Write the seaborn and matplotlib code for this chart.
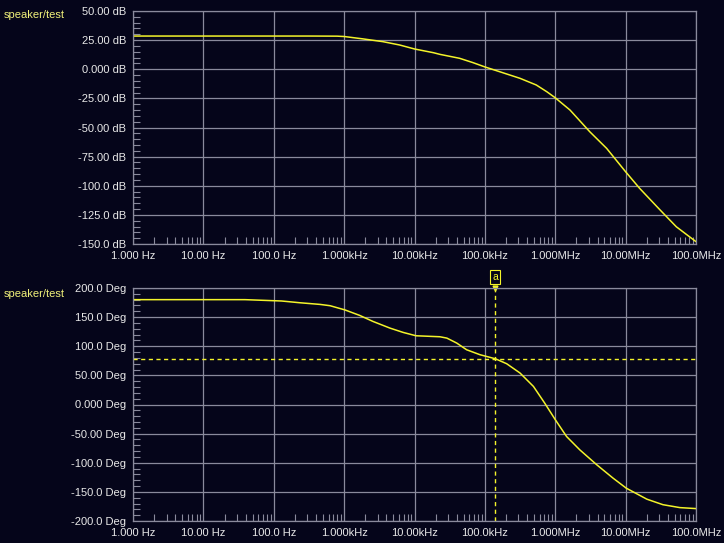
import matplotlib
matplotlib.use("Agg")
import matplotlib.pyplot as plt
from matplotlib.ticker import FixedLocator, FixedFormatter, LogLocator, MultipleLocator, NullFormatter
import numpy as np
import pandas as pd
import seaborn as sns

# ---------------- data ----------------
trace_name = "speaker/test"

mag_freq_hz = [1, 316, 794, 1.0e3, 1.78e3, 3.55e3, 6.17e3, 1.0e4, 1.86e4, 2.29e4,
               4.37e4, 6.76e4, 1.0e5, 1.62e5, 3.16e5, 5.37e5, 7.59e5, 1.0e6,
               1.62e6, 3.09e6, 5.37e6, 1.0e7, 1.58e7, 3.09e7, 5.25e7, 1.0e8]
mag_db = [28.5, 28.5, 28.4, 28.1, 26.2, 23.7, 20.8, 17.4, 14.2, 12.8,
          9.4, 5.7, 2.0, -2.1, -7.8, -13.5, -19.3, -24.5,
          -35.0, -53.6, -67.9, -88.0, -102.2, -120.8, -135.2, -148.0]

phase_freq_hz = [1, 38.9, 129, 234, 457, 631, 1.02e3, 1.66e3, 2.57e3, 4.47e3,
                 6.92e3, 1.05e4, 2.29e4, 2.88e4, 3.98e4, 5.50e4, 8.51e4, 1.41e5,
                 2.04e5, 3.16e5, 4.90e5, 7.08e5, 1.0e6, 1.45e6, 2.24e6, 3.89e6,
                 6.61e6, 1.02e7, 2.0e7, 3.39e7, 5.89e7, 1.0e8]
phase_deg = [180.0, 180.0, 177.7, 174.7, 171.8, 169.6, 162.5, 153.0, 142.6, 131.2,
             123.7, 118.0, 116.3, 114.0, 105.5, 94.0, 85.5, 78.5,
             70.0, 54.0, 31.0, 2.4, -26.0, -55.0, -78.0, -103.5,
             -126.3, -143.6, -162.5, -172.0, -177.0, -178.7]

cursor_label = "a"
cursor_freq_hz = 1.4e5
cursor_phase_deg = 78.5

x_ticks = [1, 10, 100, 1e3, 1e4, 1e5, 1e6, 1e7, 1e8]
x_tick_labels = ["1.000 Hz", "10.00 Hz", "100.0 Hz", "1.000kHz", "10.00kHz",
                 "100.0kHz", "1.000MHz", "10.00MHz", "100.0MHz"]
mag_ticks = [50, 25, 0, -25, -50, -75, -100, -125, -150]
mag_tick_labels = ["50.00 dB", "25.00 dB", "0.000 dB", "-25.00 dB", "-50.00 dB",
                   "-75.00 dB", "-100.0 dB", "-125.0 dB", "-150.0 dB"]
phase_ticks = [200, 150, 100, 50, 0, -50, -100, -150, -200]
phase_tick_labels = ["200.0 Deg", "150.0 Deg", "100.0 Deg", "50.00 Deg", "0.000 Deg",
                     "-50.00 Deg", "-100.0 Deg", "-150.0 Deg", "-200.0 Deg"]

# ---------------- style ----------------
BG = "#05051a"
GRID = "#8a8a9c"
TRACE = "#f4f42a"
TEXT = "#e8e8e8"
LABEL = "#f0f07a"

sns.set_style("dark", {"axes.facecolor": BG, "figure.facecolor": BG,
                       "axes.edgecolor": GRID, "grid.color": GRID})
plt.rcParams["font.family"] = ["Liberation Sans", "DejaVu Sans"]

fig = plt.figure(figsize=(7.24, 5.43), dpi=100)
fig.patch.set_facecolor(BG)
ax1 = fig.add_axes([133 / 724, 1 - 244 / 543, 563 / 724, 233 / 543])
ax2 = fig.add_axes([133 / 724, 1 - 521 / 543, 563 / 724, 233 / 543])

mag_df = pd.DataFrame({"freq": mag_freq_hz, "value": mag_db})
phase_df = pd.DataFrame({"freq": phase_freq_hz, "value": phase_deg})

sns.lineplot(data=mag_df, x="freq", y="value", ax=ax1, color=TRACE, lw=1.1)
sns.lineplot(data=phase_df, x="freq", y="value", ax=ax2, color=TRACE, lw=1.1)


def style_axis(ax, yticks, ylabels, ylim, yminor):
    ax.set_facecolor(BG)
    ax.set_xscale("log")
    ax.set_xlim(x_ticks[0], x_ticks[-1])
    ax.set_ylim(*ylim)
    ax.set_xlabel("")
    ax.set_ylabel("")
    ax.xaxis.set_major_locator(FixedLocator(x_ticks))
    ax.xaxis.set_major_formatter(FixedFormatter(x_tick_labels))
    ax.xaxis.set_minor_locator(LogLocator(base=10, subs=np.arange(2, 10), numticks=50))
    ax.xaxis.set_minor_formatter(NullFormatter())
    ax.yaxis.set_major_locator(FixedLocator(yticks))
    ax.yaxis.set_major_formatter(FixedFormatter(ylabels))
    ax.yaxis.set_minor_locator(MultipleLocator(yminor))
    ax.grid(True, which="major", color=GRID, lw=0.9)
    ax.grid(False, which="minor")
    ax.set_axisbelow(True)
    ax.tick_params(which="both", bottom=True, left=True, top=False, right=False)
    ax.tick_params(which="major", length=0, labelcolor=TEXT, labelsize=8, pad=5)
    ax.tick_params(which="minor", length=5, width=0.8, direction="in", color=GRID)
    for s in ax.spines.values():
        s.set_color(GRID)
        s.set_linewidth(0.9)


style_axis(ax1, mag_ticks, mag_tick_labels, (-150, 50), 5)
style_axis(ax2, phase_ticks, phase_tick_labels, (-200, 200), 10)

# cursor
dash = (0, (3, 2.5))
ax2.axvline(cursor_freq_hz, color=TRACE, lw=1, ls=dash)
ax2.axhline(cursor_phase_deg, color=TRACE, lw=1, ls=dash)
ax2.annotate(cursor_label, xy=(cursor_freq_hz, 1.0), xycoords=("data", "axes fraction"),
             xytext=(0, 8), textcoords="offset points", ha="center", va="center",
             fontsize=7.5, color=TRACE, annotation_clip=False,
             bbox=dict(boxstyle="square,pad=0.2", fc=BG, ec=TRACE, lw=0.8))
ax2.plot([cursor_freq_hz], [1.0], marker="v", ms=3.5, color=TRACE,
         transform=ax2.get_xaxis_transform(), clip_on=False)

# trace names
fig.text(4 / 724, 1 - 15 / 543, trace_name, color=LABEL, fontsize=8, va="center", ha="left")
fig.text(4 / 724, 1 - 294 / 543, trace_name, color=LABEL, fontsize=8, va="center", ha="left")

fig.savefig("out.png", dpi=100, facecolor=BG)
